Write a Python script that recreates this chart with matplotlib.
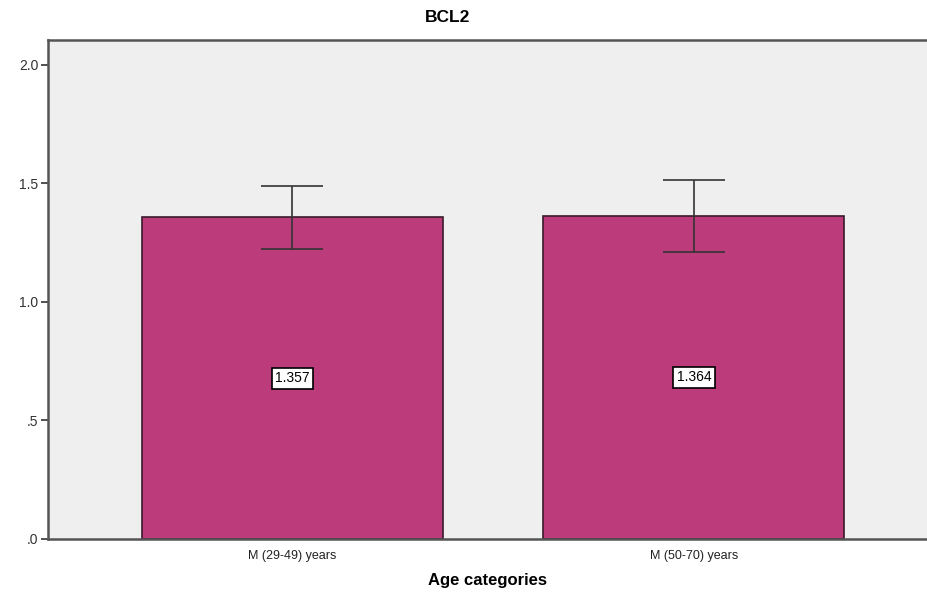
import matplotlib.pyplot as plt
import numpy as np

plt.rcParams["font.family"] = ["Liberation Sans", "DejaVu Sans"]

# ---------------- Dados ----------------
categorias = ["M (29-49) years", "M (50-70) years"]
medias = [1.357, 1.364]
erro_inf = [1.224, 1.211]
erro_sup = [1.490, 1.513]
rotulos_y = [".0", ".5", "1.0", "1.5", "2.0"]
ticks_y = [0.0, 0.5, 1.0, 1.5, 2.0]

COR_BARRA = "#BC3B7B"
COR_FUNDO = "#EFEFEF"

fig = plt.figure(figsize=(9.28, 5.99), dpi=100)
ax = fig.add_axes([48 / 928, 1 - 539 / 599, 1 - 48 / 928, (539 - 40) / 599])
ax.set_facecolor(COR_FUNDO)

x = np.arange(len(categorias))
ax.bar(x, medias, width=0.75, color=COR_BARRA, edgecolor="#3a1a2a", linewidth=1.2, zorder=2)

med = np.array(medias)
yerr = np.vstack([med - np.array(erro_inf), np.array(erro_sup) - med])
ax.errorbar(x, medias, yerr=yerr, fmt="none", ecolor="#333333", elinewidth=1.2,
            capsize=22, capthick=1.2, zorder=3)

for xi, m in zip(x, medias):
    ax.text(xi, m / 2, f"{m:.3f}", ha="center", va="center", fontsize=10,
            bbox=dict(boxstyle="square,pad=0.25", facecolor="white", edgecolor="black", linewidth=1.2),
            zorder=4)

ax.set_xlim(-0.609, 1.583)
ax.set_ylim(0, 2.105)
ax.set_yticks(ticks_y)
ax.set_yticklabels(rotulos_y, fontsize=10, color="#333333")
ax.set_xticks(x)
ax.set_xticklabels(categorias, fontsize=9, color="#222222")
ax.tick_params(axis="y", length=5, width=1.2, color="#333333", pad=2)
ax.tick_params(axis="x", length=0, pad=8)

for lado in ["left", "top", "bottom"]:
    ax.spines[lado].set_color("#555555")
    ax.spines[lado].set_linewidth(1.8)
ax.spines["right"].set_visible(False)

ax.set_xlabel("Age categories", fontsize=12, fontweight="bold", labelpad=8)
fig.text(448 / 928, 1 - 18 / 599, "BCL2", ha="center", va="center", fontsize=12.5, fontweight="bold")

plt.savefig("out.png", dpi=100)
